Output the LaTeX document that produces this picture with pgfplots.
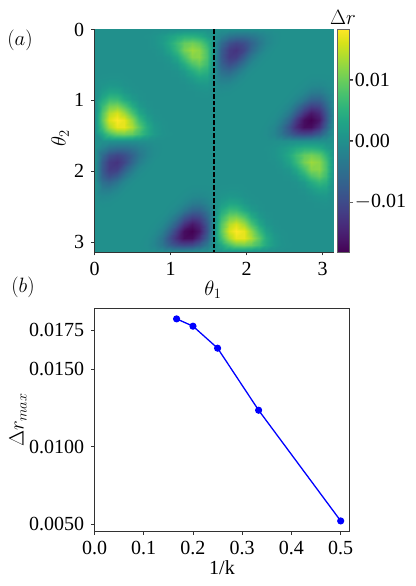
\documentclass[border=0pt]{standalone}
\usepackage{fontspec}
\setmainfont{Liberation Serif}
\usepackage{pgfplots}
\pgfplotsset{compat=1.18}
\definecolor{fr}{RGB}{50,50,50}
\definecolor{cbfr}{RGB}{100,100,100}
\begin{document}
\fontsize{20}{24}\selectfont
\begin{tikzpicture}[x=1pt,y=1pt]
\path[use as bounding box] (0,0) rectangle (415,586);
\begin{axis}[
  at={(94.5pt,334pt)},anchor=south west,
  scale only axis,width=239pt,height=222.5pt,
  xmin=0,xmax=3.1416,ymin=0,ymax=3.1416,y dir=reverse,
  axis line style={fr,line width=0.9pt},
  tick style={fr,line width=0.7pt},major tick length=3.5pt,tick align=outside,
  xtick={0,1,2,3},ytick={0,1,2,3},
  xticklabels={0,1,2,3},yticklabels={0,1,2,3},
  xtick pos=lower,ytick pos=left,
  xticklabel pos=lower,
  tick label style={font=\fontsize{20}{24}\selectfont},
  point meta min=-182,point meta max=182,
  colormap name=viridis,
  colorbar,
  colorbar style={
    at={(parent axis.north east)},anchor=north west,xshift=-4.5pt,
    width=12pt,
    ytick={-100,0,100},
    yticklabels={$-$0.01,0.00,0.01},
    ytick pos=right,yticklabel pos=right,
    major tick length=3.5pt,
    tick align=outside,
    yticklabel style={xshift=-5pt},
  },
  clip=true,
]
\addplot[surf,shader=interp,mesh/cols=33,mesh/rows=34,mesh/ordering=x varies,point meta=explicit]
 table[row sep=crcr,header=false,x expr={mod(\coordindex,33)*0.098175},y expr={floor(\coordindex/33)*0.098175},meta index=0]{
0\\0\\0\\0\\0\\0\\0\\0\\0\\0\\0\\0\\0\\0\\0\\0\\0\\0\\0\\0\\0\\0\\0\\0\\0\\0\\0\\0\\0\\0\\0\\0\\0\\
0\\0\\0\\0\\0\\0\\0\\1\\5\\14\\26\\40\\50\\50\\42\\22\\0\\-22\\-42\\-50\\-50\\-40\\-26\\-14\\-5\\-1\\0\\0\\0\\0\\0\\0\\0\\
0\\0\\0\\0\\0\\0\\0\\0\\5\\16\\38\\68\\95\\105\\92\\55\\0\\-55\\-92\\-105\\-95\\-68\\-38\\-16\\-5\\0\\0\\0\\0\\0\\0\\0\\0\\
0\\0\\0\\0\\0\\0\\0\\0\\1\\8\\28\\62\\105\\128\\118\\75\\0\\-75\\-118\\-128\\-105\\-62\\-28\\-8\\-1\\0\\0\\0\\0\\0\\0\\0\\0\\
0\\0\\0\\0\\0\\0\\0\\0\\0\\2\\10\\35\\75\\115\\118\\78\\0\\-78\\-118\\-115\\-75\\-35\\-10\\-2\\0\\0\\0\\0\\0\\0\\0\\0\\0\\
0\\0\\0\\0\\0\\0\\0\\0\\0\\0\\3\\14\\42\\78\\95\\68\\0\\-68\\-95\\-78\\-42\\-14\\-3\\0\\0\\0\\0\\0\\0\\0\\0\\0\\0\\
0\\0\\0\\0\\0\\0\\0\\0\\0\\0\\0\\3\\15\\40\\60\\48\\0\\-48\\-60\\-40\\-15\\-3\\0\\0\\0\\0\\0\\0\\0\\0\\0\\0\\0\\
0\\2\\3\\3\\1\\0\\0\\0\\0\\0\\0\\0\\4\\16\\30\\28\\0\\-28\\-30\\-16\\-4\\0\\0\\0\\0\\0\\0\\0\\-1\\-3\\-3\\-2\\0\\
0\\7\\12\\10\\4\\1\\0\\0\\0\\0\\0\\0\\0\\4\\10\\12\\0\\-12\\-10\\-4\\0\\0\\0\\0\\0\\0\\0\\-1\\-4\\-10\\-12\\-7\\0\\
0\\18\\32\\30\\14\\4\\1\\0\\0\\0\\0\\0\\0\\0\\2\\3\\0\\-3\\-2\\0\\0\\0\\0\\0\\0\\0\\-1\\-4\\-14\\-30\\-32\\-18\\0\\
0\\38\\65\\64\\38\\16\\4\\0\\0\\0\\0\\0\\0\\0\\0\\0\\0\\0\\0\\0\\0\\0\\0\\0\\0\\0\\-4\\-16\\-38\\-64\\-65\\-38\\0\\
0\\62\\105\\112\\85\\44\\15\\3\\0\\0\\0\\0\\0\\0\\0\\0\\0\\0\\0\\0\\0\\0\\0\\0\\0\\-3\\-15\\-44\\-85\\-112\\-105\\-62\\0\\
0\\82\\140\\160\\130\\80\\35\\10\\2\\0\\0\\0\\0\\0\\0\\0\\0\\0\\0\\0\\0\\0\\0\\0\\-2\\-10\\-35\\-80\\-130\\-160\\-140\\-82\\0\\
0\\90\\160\\182\\170\\122\\65\\25\\6\\1\\0\\0\\0\\0\\0\\0\\0\\0\\0\\0\\0\\0\\0\\-1\\-6\\-25\\-65\\-122\\-170\\-182\\-160\\-90\\0\\
0\\72\\135\\170\\170\\138\\90\\42\\14\\3\\0\\0\\0\\0\\0\\0\\0\\0\\0\\0\\0\\0\\0\\-3\\-14\\-42\\-90\\-138\\-170\\-170\\-135\\-72\\0\\
0\\35\\75\\100\\105\\95\\70\\38\\16\\4\\1\\0\\0\\0\\0\\0\\0\\0\\0\\0\\0\\0\\-1\\-4\\-16\\-38\\-70\\-95\\-105\\-100\\-75\\-35\\0\\
0\\0\\0\\0\\0\\0\\0\\0\\0\\0\\0\\0\\0\\0\\0\\0\\0\\0\\0\\0\\0\\0\\0\\0\\0\\0\\0\\0\\0\\0\\0\\0\\0\\
0\\-22\\-42\\-50\\-50\\-40\\-26\\-14\\-5\\-1\\0\\0\\0\\0\\0\\0\\0\\0\\0\\0\\0\\0\\0\\1\\5\\14\\26\\40\\50\\50\\42\\22\\0\\
0\\-55\\-92\\-105\\-95\\-68\\-38\\-16\\-5\\0\\0\\0\\0\\0\\0\\0\\0\\0\\0\\0\\0\\0\\0\\0\\5\\16\\38\\68\\95\\105\\92\\55\\0\\
0\\-75\\-118\\-128\\-105\\-62\\-28\\-8\\-1\\0\\0\\0\\0\\0\\0\\0\\0\\0\\0\\0\\0\\0\\0\\0\\1\\8\\28\\62\\105\\128\\118\\75\\0\\
0\\-78\\-118\\-115\\-75\\-35\\-10\\-2\\0\\0\\0\\0\\0\\0\\0\\0\\0\\0\\0\\0\\0\\0\\0\\0\\0\\2\\10\\35\\75\\115\\118\\78\\0\\
0\\-68\\-95\\-78\\-42\\-14\\-3\\0\\0\\0\\0\\0\\0\\0\\0\\0\\0\\0\\0\\0\\0\\0\\0\\0\\0\\0\\3\\14\\42\\78\\95\\68\\0\\
0\\-48\\-60\\-40\\-15\\-3\\0\\0\\0\\0\\0\\0\\0\\0\\0\\0\\0\\0\\0\\0\\0\\0\\0\\0\\0\\0\\0\\3\\15\\40\\60\\48\\0\\
0\\-28\\-30\\-16\\-4\\0\\0\\0\\0\\0\\0\\0\\-1\\-3\\-3\\-2\\0\\2\\3\\3\\1\\0\\0\\0\\0\\0\\0\\0\\4\\16\\30\\28\\0\\
0\\-12\\-10\\-4\\0\\0\\0\\0\\0\\0\\0\\-1\\-4\\-10\\-12\\-7\\0\\7\\12\\10\\4\\1\\0\\0\\0\\0\\0\\0\\0\\4\\10\\12\\0\\
0\\-3\\-2\\0\\0\\0\\0\\0\\0\\0\\-1\\-4\\-14\\-30\\-32\\-18\\0\\18\\32\\30\\14\\4\\1\\0\\0\\0\\0\\0\\0\\0\\2\\3\\0\\
0\\0\\0\\0\\0\\0\\0\\0\\0\\0\\-4\\-16\\-38\\-64\\-65\\-38\\0\\38\\65\\64\\38\\16\\4\\0\\0\\0\\0\\0\\0\\0\\0\\0\\0\\
0\\0\\0\\0\\0\\0\\0\\0\\0\\-3\\-15\\-44\\-85\\-112\\-105\\-62\\0\\62\\105\\112\\85\\44\\15\\3\\0\\0\\0\\0\\0\\0\\0\\0\\0\\
0\\0\\0\\0\\0\\0\\0\\0\\-2\\-10\\-35\\-80\\-130\\-160\\-140\\-82\\0\\82\\140\\160\\130\\80\\35\\10\\2\\0\\0\\0\\0\\0\\0\\0\\0\\
0\\0\\0\\0\\0\\0\\0\\-1\\-6\\-25\\-65\\-122\\-170\\-182\\-160\\-90\\0\\90\\160\\182\\170\\122\\65\\25\\6\\1\\0\\0\\0\\0\\0\\0\\0\\
0\\0\\0\\0\\0\\0\\0\\-3\\-14\\-42\\-90\\-138\\-170\\-170\\-135\\-72\\0\\72\\135\\170\\170\\138\\90\\42\\14\\3\\0\\0\\0\\0\\0\\0\\0\\
0\\0\\0\\0\\0\\0\\-1\\-4\\-16\\-38\\-70\\-95\\-105\\-100\\-75\\-35\\0\\35\\75\\100\\105\\95\\70\\38\\16\\4\\1\\0\\0\\0\\0\\0\\0\\
0\\0\\0\\0\\0\\0\\0\\0\\0\\0\\0\\0\\0\\0\\0\\0\\0\\0\\0\\0\\0\\0\\0\\0\\0\\0\\0\\0\\0\\0\\0\\0\\0\\
0\\0\\0\\0\\0\\0\\0\\0\\0\\0\\0\\0\\0\\0\\0\\0\\0\\0\\0\\0\\0\\0\\0\\0\\0\\0\\0\\0\\0\\0\\0\\0\\0\\
};
\addplot[black,line width=1.3pt,dash pattern=on 4.5pt off 2pt] coordinates {(1.5708,0) (1.5708,3.1416)};
\end{axis}
\draw[cbfr,line width=0.8pt] (337,334) rectangle (349,556.5);
\draw[cbfr,line width=0.7pt] (349,506) -- (352.5,506) (349,445) -- (352.5,445) (349,384) -- (352.5,384);
\begin{axis}[
  at={(94.5pt,55pt)},anchor=south west,
  scale only axis,width=254.8pt,height=222.5pt,
  xmin=0,xmax=0.5175,ymin=0.00455,ymax=0.0189,
  axis line style={fr,line width=0.9pt},
  tick style={fr,line width=0.7pt},major tick length=3.5pt,tick align=outside,
  xtick={0,0.1,0.2,0.3,0.4,0.5},
  xticklabels={0.0,0.1,0.2,0.3,0.4,0.5},
  ytick={0.005,0.01,0.015,0.0175},
  yticklabels={0.0050,0.0100,0.0150,0.0175},
  scaled y ticks=false,scaled x ticks=false,
  xtick pos=lower,ytick pos=left,
  tick label style={font=\fontsize{20}{24}\selectfont},
]
\addplot[blue,line width=1.3pt,mark=*,mark size=2.9pt,mark options={fill=blue,draw=blue}]
 coordinates {(0.1667,0.01823) (0.2,0.01776) (0.25,0.01634) (0.3333,0.01234) (0.5,0.0052)};
\end{axis}
\node at (20,546) {$(a)$};
\node at (23,299) {$(b)$};
\node[font=\fontsize{21}{26}\selectfont] at (343,569) {$\Delta r$};
\node[rotate=90] at (60,448) {$\theta_2$};
\node at (213,296) {$\theta_1$};
\node at (222,18) {1/k};
\node[rotate=90] at (18,166) {$\Delta r_{max}$};
\end{tikzpicture}
\end{document}
